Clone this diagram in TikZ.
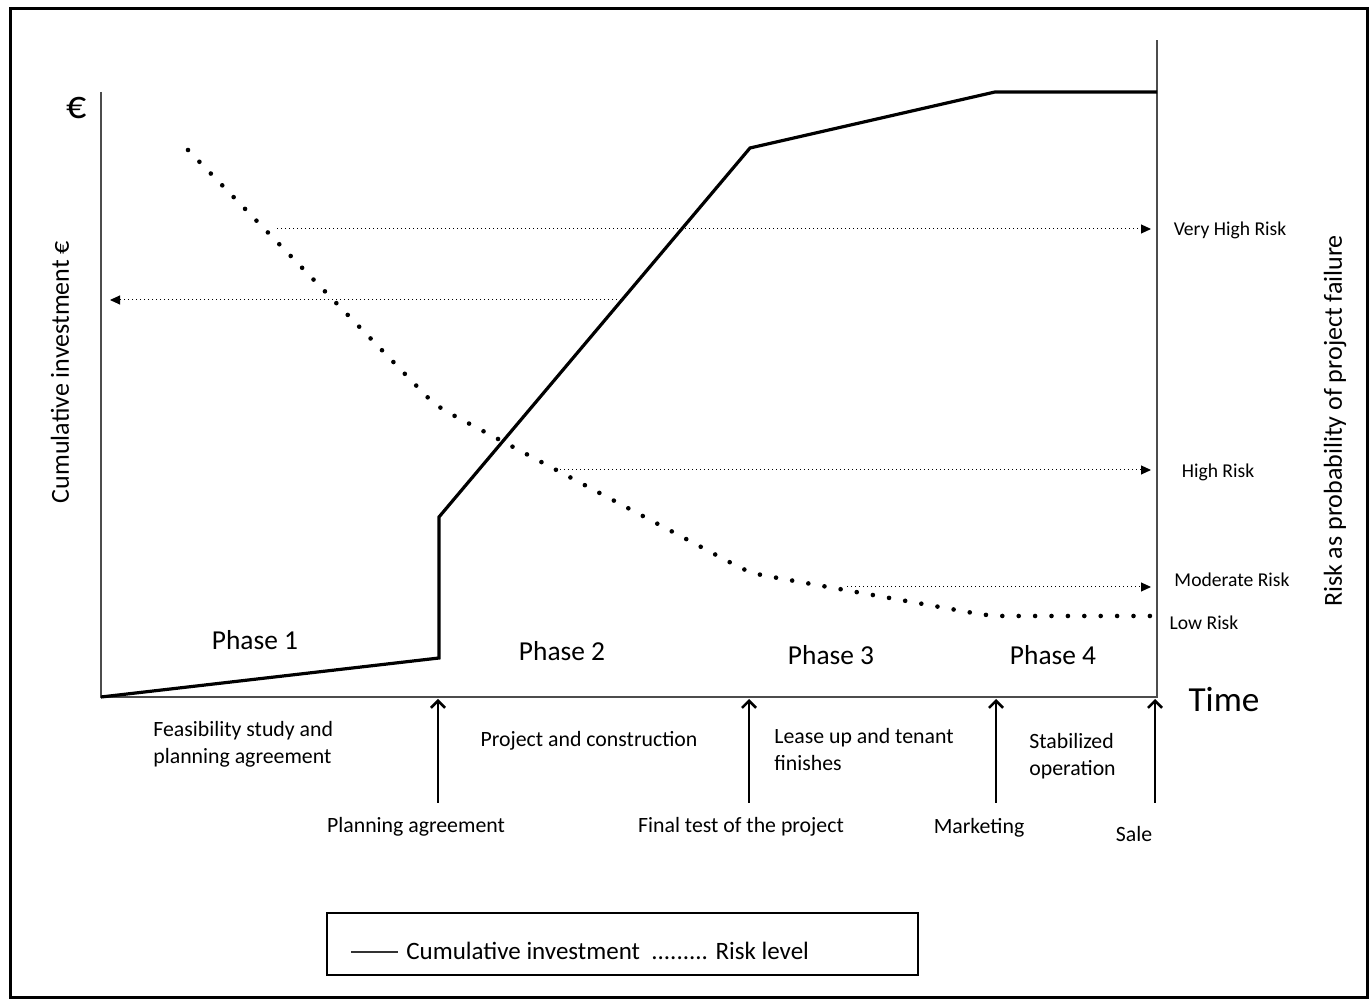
\documentclass[tikz,border=0pt]{standalone}
\usepackage{fontspec}
\setmainfont{Carlito}
\usetikzlibrary{arrows.meta,positioning}

\begin{document}
\begin{tikzpicture}[
x=0.5pt,y=-0.5pt,
invest/.style={
  line width=1.6pt,
  line join=miter
},
risk/.style={
  line width=2.3pt,
  line cap=round,
  dash pattern=on 0pt off 8.2pt
},
guide/.style={
  line width=0.5pt,
  dash pattern=on 0.6pt off 1.4pt,
  -{Triangle[length=5pt,width=4.5pt]}
},
mile/.style={
  line width=0.6pt,
  -{Straight Barb[length=3.5pt,width=7pt,line width=1.3pt]}
},
axis/.style={line width=0.6pt,black!70},
small/.style={font=\fontsize{10.9}{13.5}\selectfont,align=left,inner sep=0pt},
risklbl/.style={font=\fontsize{9.8}{12}\selectfont,inner sep=0pt},
phase/.style={font=\fontsize{13.7}{16}\selectfont,inner sep=0pt},
title/.style={font=\fontsize{13}{16}\selectfont,inner sep=0pt,rotate=90}
]
\useasboundingbox (0,0) rectangle (1372,1004);
\draw[line width=1.5pt] (10,9) rectangle (1367,998);

% axes
\coordinate (O) at (101,697);
\coordinate (ytop) at (101,92);
\coordinate (rtop) at (1157,40);
\coordinate (rbot) at (1157,697);
\draw[axis] (ytop) -- (O) -- (rbot) -- (rtop);

\node[font=\fontsize{20}{22}\selectfont] (euro) at (77,108) {€};
\node[font=\fontsize{17.6}{20}\selectfont] (time) at (1224,700) {Time};
\node[title] (ytitle) at (60,372) {Cumulative investment €};
\node[title] (rtitle) at (1335,421) {Risk as probability of project failure};

% curves
\draw[invest] (O) -- (439,658) -- (439,517) -- (750,148) -- (995,92) -- (1157,92);
\draw[risk,rounded corners=7pt] (188,150) -- (436,406) -- (750,573) -- (990,616) -- (1157,616);

% risk levels
\coordinate (vh-a) at (277,229);
\coordinate (vh-b) at (1151,229);
\coordinate (inv-a) at (621,300);
\coordinate (inv-b) at (110,300);
\coordinate (hi-a) at (556,470);
\coordinate (hi-b) at (1151,470);
\coordinate (mo-a) at (847,587);
\coordinate (mo-b) at (1151,587);
\draw[guide] (vh-a) -- (vh-b);
\draw[guide] (inv-a) -- (inv-b);
\draw[guide] (hi-a) -- (hi-b);
\draw[guide] (mo-a) -- (mo-b);

\node[risklbl] (vhigh) at (1230,230) {Very High Risk};
\node[risklbl] (high) at (1218,472) {High Risk};
\node[risklbl] (mod) at (1232,580) {Moderate Risk};
\node[risklbl] (low) at (1204,623) {Low Risk};

\node[phase] (ph1) at (255,640) {Phase 1};
\node[phase] (ph2) at (562,651) {Phase 2};
\node[phase] (ph3) at (831,655) {Phase 3};
\node[phase] (ph4) at (1053,655) {Phase 4};

\node[small,anchor=west] (feas) at (153,744) {Feasibility study and\\planning agreement};
\node[small] (proj) at (589,741) {Project and construction};
\node[small,anchor=west] (lease) at (774,750) {Lease up and tenant\\finishes};
\node[small,anchor=west] (stab) at (1029,756) {Stabilized\\operation};

% milestones
\foreach \x/\n in {438/pa,749/ft,996/mk,1155/sl}{
  \coordinate (\n-lo) at (\x,803);
  \coordinate (\n-hi) at (\x,699);
  \draw[mile] (\n-lo) -- (\n-hi);
}
\node[small] (plan) at (416,827) {Planning agreement};
\node[small] (final) at (741,827) {Final test of the project};
\node[small] (mark) at (979,828) {Marketing};
\node[small] (sale) at (1134,834) {Sale};

% legend
\node[draw,line width=0.6pt,minimum width=295.5pt,minimum height=31pt,inner sep=0pt] (legend) at (622.5,944) {};
\coordinate (leg-a) at (351,952);
\coordinate (leg-b) at (398,952);
\draw[line width=0.8pt,black!80] (leg-a) -- (leg-b);
\node[font=\fontsize{12.5}{15}\selectfont,inner sep=0pt,anchor=west] (legtxt) at (406,951) {Cumulative investment\ \ ......... Risk level};
\end{tikzpicture}
\end{document}
